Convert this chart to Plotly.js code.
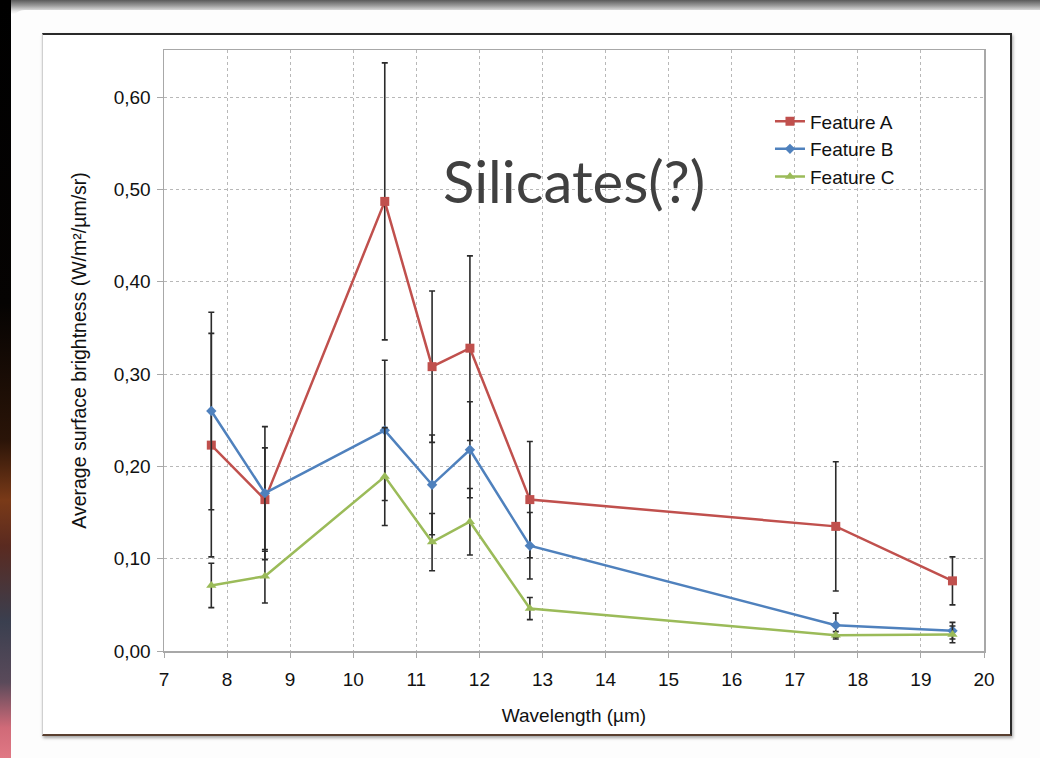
<!DOCTYPE html>
<html>
<head>
<meta charset="utf-8">
<script src="https://cdn.plot.ly/plotly-3.0.1.min.js"></script>
<style>
  html, body { margin: 0; padding: 0; background: #ffffff; }
  #stage { position: relative; width: 1040px; height: 758px; overflow: hidden; background: #ffffff; }
  #topstrip { position: absolute; left: 0; top: 0; width: 1040px; height: 14px;
    background: linear-gradient(to bottom, #5a5a5a 0%, #9a9a9a 40%, #e8e8e8 80%, #ffffff 100%); }
  #leftstrip { position: absolute; left: 0; top: 0; width: 11px; height: 758px;
    background: linear-gradient(to bottom, #000000 0%, #050302 40%, #2a1408 58%, #7a3a18 66%, #5a2a20 72%, #3a3f4f 82%, #5a4a5a 90%, #d06a78 96%, #e07884 100%); }
  #slide { position: absolute; left: 11px; top: 10px; width: 1029px; height: 748px; background: #fdfdfd;
    border-top-left-radius: 14px; }
  #box { position: absolute; left: 42px; top: 33px; width: 967px; height: 699px; background: #ffffff;
    border-top: 2px solid #2a2a2a; border-right: 2px solid #2a2a2a; border-left: 1px solid #d0d0d0;
    border-bottom: 2px solid #5a4030; box-shadow: 1px 2px 3px rgba(0,0,0,0.35); }
  #chart { position: absolute; left: 0; top: 0; width: 1040px; height: 758px; }
</style>
</head>
<body>
<div id="stage">
  <div id="topstrip"></div>
  <div id="slide"></div>
  <div id="leftstrip"></div>
  <div id="box"></div>
  <div id="chart"></div>
</div>
<script>
// Wavelengths (µm)
const wavelength = [7.75, 8.6, 10.5, 11.25, 11.85, 12.8, 17.65, 19.5];

// Average surface brightness (W/m²/µm/sr)
const featureA = [0.223, 0.164, 0.487, 0.308, 0.328, 0.164, 0.135, 0.076];
const featureB = [0.260, 0.171, 0.239, 0.180, 0.218, 0.114, 0.028, 0.022];
const featureC = [0.071, 0.081, 0.189, 0.118, 0.140, 0.046, 0.017, 0.018];

// Symmetric error bars
const errorA = [0.121, 0.056, 0.150, 0.082, 0.100, 0.063, 0.070, 0.026];
const errorB = [0.107, 0.072, 0.076, 0.054, 0.052, 0.036, 0.013, 0.009];
const errorC = [0.024, 0.029, 0.053, 0.031, 0.036, 0.012, 0.004, 0.009];

const seriesNames = ['Feature A', 'Feature B', 'Feature C'];
const xTicks = [7, 8, 9, 10, 11, 12, 13, 14, 15, 16, 17, 18, 19, 20];
const yTicks = [0, 0.1, 0.2, 0.3, 0.4, 0.5, 0.6];

const errStyle = (arr) => ({ type: 'data', array: arr, visible: true, color: '#2b2b2b', thickness: 1.6, width: 3 });

const traces = [
  { x: wavelength, y: featureA, name: seriesNames[0], mode: 'lines+markers', type: 'scatter',
    line: { color: '#c0504d', width: 2.5 }, marker: { symbol: 'square', size: 9, color: '#c0504d' },
    error_y: errStyle(errorA) },
  { x: wavelength, y: featureB, name: seriesNames[1], mode: 'lines+markers', type: 'scatter',
    line: { color: '#4f81bd', width: 2.5 }, marker: { symbol: 'diamond', size: 8, color: '#4f81bd' },
    error_y: errStyle(errorB) },
  { x: wavelength, y: featureC, name: seriesNames[2], mode: 'lines+markers', type: 'scatter',
    line: { color: '#9bbb59', width: 2.5 }, marker: { symbol: 'triangle-up', size: 9, color: '#9bbb59' },
    error_y: errStyle(errorC) }
];

const layout = {
  width: 1040, height: 758,
  paper_bgcolor: 'rgba(0,0,0,0)', plot_bgcolor: '#ffffff',
  margin: { l: 164, r: 56, t: 50, b: 107 },
  separators: ',.',
  font: { family: 'Liberation Sans, Arial, sans-serif', color: '#111111', size: 19 },
  showlegend: true,
  legend: { x: 0.739, y: 0.913, xanchor: 'left', yanchor: 'top', bgcolor: 'rgba(255,255,255,0)',
    font: { size: 19, color: '#111111' }, tracegroupgap: 0, itemwidth: 30 },
  xaxis: {
    range: [7, 20], tickvals: xTicks, ticktext: xTicks.map(String),
    showgrid: true, gridcolor: '#b8b8b8', griddash: 'dot', gridwidth: 1,
    showline: true, linecolor: '#a8a8a8', linewidth: 1.5, mirror: true,
    ticks: 'outside', ticklen: 5, tickcolor: '#a8a8a8', zeroline: false,
    tickfont: { size: 19, color: '#111111' }, ticklabelstandoff: 6,
    title: { text: 'Wavelength (µm)', font: { size: 19, color: '#111111' }, standoff: 19 }
  },
  yaxis: {
    range: [0, 0.651], tickvals: yTicks, tickformat: '.2f',
    showgrid: true, gridcolor: '#b8b8b8', griddash: 'dot', gridwidth: 1,
    showline: true, linecolor: '#a8a8a8', linewidth: 1.5, mirror: true,
    ticks: 'outside', ticklen: 6, tickcolor: '#a8a8a8', zeroline: false,
    tickfont: { size: 19, color: '#111111' }, ticklabelstandoff: 2,
    title: { text: 'Average surface brightness (W/m²/µm/sr)', font: { size: 19.5, color: '#111111' }, standoff: 22 }
  },
  annotations: [
    { text: 'Silicates(?)', xref: 'paper', yref: 'paper', x: 0.5, y: 0.783, xanchor: 'center', yanchor: 'middle',
      showarrow: false, font: { family: 'Lato, "Open Sans", sans-serif', size: 58, color: '#404040' } }
  ]
};

Plotly.newPlot('chart', traces, layout, { displayModeBar: false, staticPlot: true });
</script>
</body>
</html>
